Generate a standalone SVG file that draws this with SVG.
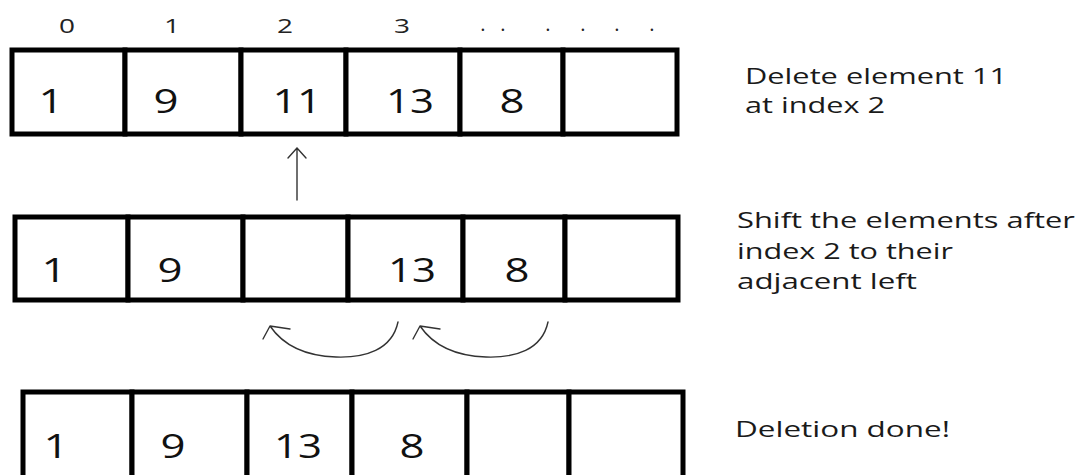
<svg xmlns="http://www.w3.org/2000/svg" width="1084" height="475" viewBox="0 0 1084 475">
<style>
.cell{fill:#fff;stroke:#000;stroke-width:5}
.num{font-family:"Open Sans","Noto Sans",sans-serif;font-size:32px;fill:#111;text-anchor:middle}
.idx{font-family:"Open Sans","Noto Sans",sans-serif;font-size:20px;fill:#222;text-anchor:middle}
.note{font-family:"Open Sans","Noto Sans",sans-serif;font-size:21px;fill:#1a1a1a}
.conn{fill:none;stroke:#333;stroke-width:1.4;stroke-linecap:round;stroke-linejoin:round}
</style>
<rect width="1084" height="475" fill="#fff"/>
<g id="indices">
<text class="idx" x="67" y="33" textLength="16" lengthAdjust="spacingAndGlyphs">0</text>
<text class="idx" x="172" y="33" textLength="16" lengthAdjust="spacingAndGlyphs">1</text>
<text class="idx" x="285" y="33" textLength="16" lengthAdjust="spacingAndGlyphs">2</text>
<text class="idx" x="402" y="33" textLength="16" lengthAdjust="spacingAndGlyphs">3</text>
<text class="idx" x="483 503 548 583 617 652" y="31" fill="#333">......</text>
</g>
<g id="row-top">
<rect class="cell" x="12" y="50" width="113" height="84"/>
<rect class="cell" x="125" y="50" width="116" height="84"/>
<rect class="cell" x="241" y="50" width="105" height="84"/>
<rect class="cell" x="346" y="50" width="114" height="84"/>
<rect class="cell" x="460" y="50" width="103" height="84"/>
<rect class="cell" x="563" y="50" width="114" height="84"/>
<text class="num" x="51" y="113" textLength="25" lengthAdjust="spacingAndGlyphs">1</text>
<text class="num" x="166" y="113" textLength="25" lengthAdjust="spacingAndGlyphs">9</text>
<text class="num" x="297" y="113" textLength="49" lengthAdjust="spacingAndGlyphs">11</text>
<text class="num" x="410" y="113" textLength="48" lengthAdjust="spacingAndGlyphs">13</text>
<text class="num" x="512" y="113" textLength="25" lengthAdjust="spacingAndGlyphs">8</text>
</g>
<g id="row-middle">
<rect class="cell" x="15" y="217" width="113" height="83"/>
<rect class="cell" x="128" y="217" width="115" height="83"/>
<rect class="cell" x="243" y="217" width="105" height="83"/>
<rect class="cell" x="348" y="217" width="115" height="83"/>
<rect class="cell" x="463" y="217" width="102" height="83"/>
<rect class="cell" x="565" y="217" width="113" height="83"/>
<text class="num" x="54" y="282" textLength="25" lengthAdjust="spacingAndGlyphs">1</text>
<text class="num" x="170" y="282" textLength="25" lengthAdjust="spacingAndGlyphs">9</text>
<text class="num" x="412" y="282" textLength="48" lengthAdjust="spacingAndGlyphs">13</text>
<text class="num" x="517" y="282" textLength="25" lengthAdjust="spacingAndGlyphs">8</text>
</g>
<g id="row-bottom">
<rect class="cell" x="23" y="392" width="109" height="90"/>
<rect class="cell" x="132" y="392" width="115" height="90"/>
<rect class="cell" x="247" y="392" width="105" height="90"/>
<rect class="cell" x="352" y="392" width="115" height="90"/>
<rect class="cell" x="467" y="392" width="102" height="90"/>
<rect class="cell" x="569" y="392" width="114" height="90"/>
<text class="num" x="56" y="458" textLength="25" lengthAdjust="spacingAndGlyphs">1</text>
<text class="num" x="173" y="458" textLength="25" lengthAdjust="spacingAndGlyphs">9</text>
<text class="num" x="298" y="458" textLength="48" lengthAdjust="spacingAndGlyphs">13</text>
<text class="num" x="412" y="458" textLength="25" lengthAdjust="spacingAndGlyphs">8</text>
</g>
<g id="notes">
<text class="note" x="745" y="84" textLength="262" lengthAdjust="spacingAndGlyphs">Delete element 11</text>
<text class="note" x="745" y="113" textLength="140" lengthAdjust="spacingAndGlyphs">at index 2</text>
<text class="note" x="737" y="228" textLength="338" lengthAdjust="spacingAndGlyphs">Shift the elements after</text>
<text class="note" x="737" y="259" textLength="216" lengthAdjust="spacingAndGlyphs">index 2 to their</text>
<text class="note" x="737" y="289" textLength="180" lengthAdjust="spacingAndGlyphs">adjacent left</text>
<text class="note" x="735" y="437" textLength="215" lengthAdjust="spacingAndGlyphs">Deletion done!</text>
</g>
<g id="connectors">
<path class="conn" d="M297,200 L297,148 M288,158 L297,148 L306,158"/>
<path class="conn" d="M398,322 C392,350 365,358 336,357 C305,356 283,345 270,326 M263,339 L270,326 L290,329"/>
<path class="conn" d="M548,322 C542,350 515,358 486,357 C455,356 433,345 420,326 M413,339 L420,326 L440,329"/>
</g>
</svg>
